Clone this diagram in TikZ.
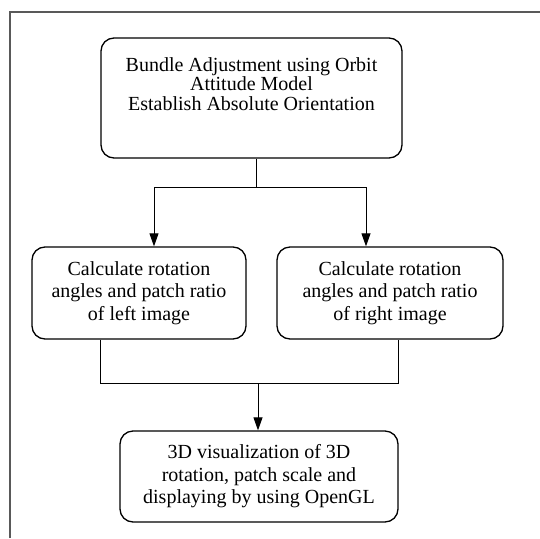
\documentclass[tikz,border=0pt]{standalone}
\usepackage{fontspec}
\setmainfont{Liberation Serif}
\usetikzlibrary{arrows.meta}

\begin{document}
\begin{tikzpicture}[x=1pt,y=-1pt,
		>={Triangle[width=9pt,length=13pt]},
		box node/.style={rectangle,rounded corners=13pt,draw,line width=1.3pt,
			align=center,inner sep=0pt,font=\fontsize{20}{22.5}\selectfont},
		link/.style={line width=1pt}]
	
	\useasboundingbox (0,0) rectangle (540,538);
	\draw[line width=1.4pt,black!65] (10,538) -- (10,12) -- (540,12);
	
	\node[box node,minimum width=301pt,minimum height=120pt,
		text height=53pt,text depth=29pt,font=\fontsize{20}{19.5}\selectfont]
		(bundle) at (251.5,98) {Bundle Adjustment using Orbit\\Attitude Model\\Establish Absolute Orientation};
	\node[box node,minimum width=214pt,minimum height=92pt] (left) at (139,293)
		{Calculate rotation\\angles and patch ratio\\of left image};
	\node[box node,minimum width=226pt,minimum height=92pt] (right) at (390,293)
		{Calculate rotation\\angles and patch ratio\\of right image};
	\node[box node,minimum width=278pt,minimum height=91pt] (vis) at (259,476.5)
		{3D visualization of 3D\\rotation, patch scale and\\displaying by using OpenGL};
	
	% split below the adjustment box
	\coordinate (fork) at (256,187);
	\coordinate (forkL) at (154,187);
	\coordinate (forkR) at (366,187);
	\draw[link] (bundle.south -| fork) -- (fork);
	\draw[link] (forkL) -- (forkR);
	\draw[link,->] (forkL) -- (forkL |- left.north);
	\draw[link,->] (forkR) -- (forkR |- right.north);
	
	% join above the visualization box
	\coordinate (joinL) at (100,383);
	\coordinate (joinR) at (398,383);
	\coordinate (join) at (258,383);
	\draw[link] (left.south -| joinL) -- (joinL) -- (joinR) -- (right.south -| joinR);
	\draw[link,->] (join) -- (vis.north -| join);
\end{tikzpicture}
\end{document}
